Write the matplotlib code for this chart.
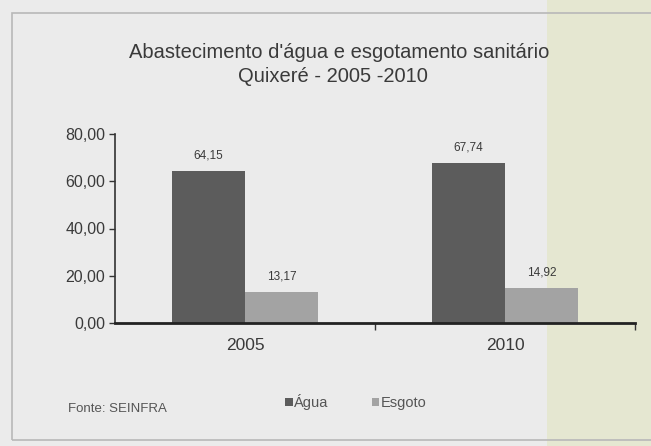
import matplotlib.pyplot as plt
from matplotlib.patches import Rectangle

# data
years = ["2005", "2010"]
agua = [64.15, 67.74]
esgoto = [13.17, 14.92]
series_names = ["Água", "Esgoto"]
y_ticks = [0, 20, 40, 60, 80]

plt.rcParams["font.family"] = ["Liberation Sans", "DejaVu Sans"]

fig = plt.figure(figsize=(6.51, 4.46), dpi=100)
fig.patch.set_facecolor("#ebebeb")

# pale panel on the right of the scan and the thin frame, behind everything
fig.patches.append(Rectangle((547 / 651, 0), 1 - 547 / 651, 1,
                             transform=fig.transFigure, facecolor="#e5e7d1",
                             edgecolor="none", zorder=-10))
fig.patches.append(Rectangle((12 / 651, 6 / 446), (660 - 12) / 651,
                             (433 - 6) / 446, transform=fig.transFigure,
                             facecolor="none", edgecolor="#b8b8b8",
                             linewidth=1.2, zorder=-9))

ax = fig.add_axes([115 / 651, 1 - 323 / 446, 520 / 651, (323 - 134) / 446])
ax.set_zorder(5)
ax.patch.set_alpha(0)

x = list(range(len(years)))
width = 0.28
bars_a = ax.bar([i - width / 2 for i in x], agua, width,
                color="#5c5c5c", label=series_names[0], zorder=2)
bars_e = ax.bar([i + width / 2 for i in x], esgoto, width,
                color="#a3a3a3", label=series_names[1], zorder=2)

for bars in (bars_a, bars_e):
    for bar in bars:
        value = bar.get_height()
        ax.annotate(f"{value:.2f}".replace(".", ","),
                    (bar.get_x() + bar.get_width() / 2, value),
                    xytext=(0, 7), textcoords="offset points",
                    ha="center", va="bottom", fontsize=8.5, color="#3a3a3a")

ax.set_xlim(-0.5, len(years) - 0.5)
ax.set_ylim(0, 80)
ax.set_yticks(y_ticks)
ax.set_yticklabels([f"{v:.2f}".replace(".", ",") for v in y_ticks],
                   fontsize=11.5, color="#3a3a3a")
ax.set_xticks(x)
ax.set_xticklabels(years, fontsize=12.5, color="#3a3a3a")
ax.tick_params(axis="x", length=0, pad=11)
ax.tick_params(axis="y", length=4, width=1, color="#333333", pad=3)
# category separators on the x axis
ax.set_xticks([0.5, 1.5], minor=True)
ax.tick_params(axis="x", which="minor", length=5, width=1, color="#333333")

for side in ("top", "right"):
    ax.spines[side].set_visible(False)
ax.spines["left"].set_color("#333333")
ax.spines["left"].set_linewidth(1.2)
ax.spines["bottom"].set_color("#222222")
ax.spines["bottom"].set_linewidth(2)

fig.text(339 / 651, 1 - 52 / 446,
         "Abastecimento d'água e esgotamento sanitário",
         ha="center", va="center", fontsize=14.5, color="#3a3a3a")
fig.text(333 / 651, 1 - 76 / 446, "Quixeré - 2005 -2010",
         ha="center", va="center", fontsize=14.5, color="#3a3a3a")

fig.legend(handles=[bars_a, bars_e], loc="center",
           bbox_to_anchor=(356 / 651, 1 - 402 / 446), ncol=2, frameon=False,
           fontsize=10.5, handlelength=0.5, handleheight=0.5,
           handletextpad=0.1, columnspacing=3.0, labelcolor="#555555")
fig.text(68 / 651, 1 - 409 / 446, "Fonte: SEINFRA", ha="left", va="center",
         fontsize=9.5, color="#555555")

fig.savefig("out.png", dpi=100, facecolor=fig.get_facecolor())
